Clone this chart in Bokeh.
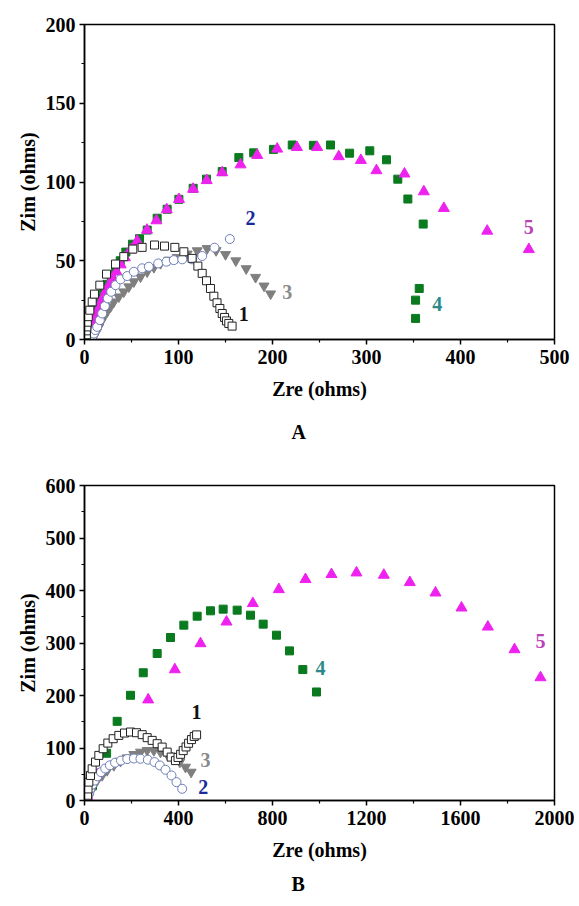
from bokeh.plotting import figure
from bokeh.layouts import column
from bokeh.models import Range1d, Title, FixedTicker
from bokeh.embed import file_html
from bokeh.resources import INLINE
from bokeh.core.properties import value

# ---------------- Panel A data ----------------
a_x1 = [1.5, 2, 2, 2.5, 3, 4, 5.7, 8.2, 10.6, 16.3, 23.4, 33, 41.8, 51.4, 61.3, 74.5, 85.1, 96.1, 105.7,
        114.5, 120.6, 125.2, 129.8, 134, 137.6, 141, 144, 146.5, 149, 151, 153.5, 157]
a_y1 = [1, 3, 5.5, 8, 11, 14.5, 18.6, 23.9, 28.8, 34.5, 41.5, 47.9, 52.6, 57.4, 58.5, 60, 59.3, 58.5, 55.7,
        51.5, 46.6, 42, 37.3, 32.4, 27.5, 23.3, 19.7, 16.5, 14, 11.8, 10.2, 8.5]

a_x2 = [7.1, 8.5, 9.9, 11.5, 13.5, 16.3, 18.8, 21.6, 24.8, 28.4, 33, 38.3, 45.4, 52.5, 61.3, 68.4, 78.4,
        87.2, 95, 104, 114.5, 125.2, 138.3, 154.6]
a_y2 = [0, 2, 3.8, 6, 8, 12.3, 16.5, 21.2, 26.1, 30.3, 34.5, 38.2, 40.3, 43, 45.2, 46.2, 48.3,
        49.4, 50.4, 50.9, 50.9, 53, 58.3, 63.8]

a_x3 = [9.9, 12.8, 15.3, 17.7, 20.6, 24.1, 27.7, 31.2, 36.5, 41.8, 47.2, 52.5, 59.6, 66.7, 73.8, 80.9,
        89.7, 98.6, 109.2, 119.9, 130.5, 140, 150, 161, 172, 182, 191, 198]
a_y3 = [1.7, 4.8, 8, 11.2, 14.4, 17.6, 20.8, 23.9, 27.1, 30.3, 33.5, 36.7, 39.8, 43, 45.8, 48.3,
        50.4, 52.1, 54.3, 56.4, 57.8, 56.5, 54, 50, 45, 39.5, 34, 29]

a_x4 = [5, 6, 7, 8.5, 10, 12, 14.5, 17, 20, 24, 28.5, 33, 38, 44, 51, 58.5, 66.7, 77.3, 87.9, 100.4,
        115.6, 129.8, 146.5, 164.2, 180, 201, 221, 243.5, 261.7, 282, 303.5, 321.3, 333.3, 344, 360.3,
        356.1, 352.2, 352.2]
a_y4 = [0.5, 3, 6, 9.5, 13, 17, 21.5, 26, 30.5, 35, 40, 45, 50, 55.5, 60.5, 64, 69.5, 77, 82.7, 89,
        96, 101.8, 106.6, 115.5, 118.5, 120.7, 123.5, 123.3, 123.5, 118.3, 119.8, 114.1, 101.8, 89.2, 73.3,
        32.4, 25, 13.4]

a_x5 = [6, 7, 8, 9.5, 11, 13, 15, 17.5, 20, 23, 26.5, 30, 34, 38.5, 43, 49, 56, 66.5, 76.5, 87.5, 100.5,
        115.5, 130, 146.5, 166, 183.7, 205, 226, 247.5, 270.5, 294, 310.6, 340.4, 361, 382.3, 428.4, 472.7]
a_y5 = [0.5, 3, 6, 9, 12, 16, 19.5, 23.5, 27, 31, 35, 39, 43, 47.5, 52, 57, 62.5, 69.5, 75.5, 82.5, 89,
        95.5, 101, 106, 111, 117, 121, 122, 122, 116.2, 113.8, 107.3, 105.2, 93.9, 83.3, 68.9, 57.2]

a_lab_text = ["1", "2", "3", "4", "5"]
a_lab_x = [169.5, 176.6, 215.6, 375.2, 472.7]
a_lab_y = [16.5, 77, 30.3, 22.5, 71.6]

# ---------------- Panel B data ----------------
b_x1 = [12, 13, 15, 18.4, 25.5, 32.6, 46.8, 61, 79.4, 99.3, 122, 146.1, 170.2, 195.7, 221.3, 245.4, 266.7,
        288, 309.2, 330.5, 351.8, 368.8, 387, 398, 409, 420, 432, 443, 455, 467, 477]
b_y1 = [3, 10, 22, 35, 47.7, 60.4, 73.2, 85.9, 98.6, 109.4, 117.7, 124, 128.5, 130.4, 129.1, 125.4, 119.7,
        114.5, 108.2, 101.7, 92.2, 82.7, 76, 82, 88, 95, 102, 109, 116, 122, 125]

b_x2 = [10, 14, 19, 25, 33, 43, 55, 70, 88, 108, 130, 155, 182, 210, 238, 269.5, 298, 320.6, 344.7,
        370.2, 391.5, 415.6]
b_y2 = [2, 8, 15, 22, 30, 38, 46, 54, 61, 67, 72, 76, 79, 80, 79.5, 77.7, 73.2, 66.8, 58.5,
        47.7, 35, 22.3]

b_x3 = [10, 14, 18.4, 25, 32.6, 42, 53.9, 75.2, 96.5, 124.8, 153.2, 181.6, 210, 238.3, 266.7, 295,
        323.4, 354.6, 380.1, 405.7, 429.8, 453.9]
b_y3 = [1, 3, 6.4, 15, 25.4, 32, 38.2, 47.7, 57.3, 66.8, 75, 81.4, 87.8, 92.2, 95.4, 95.4,
        92.2, 85.9, 79.5, 73.2, 63.6, 54.1]

b_x4 = [12, 34, 94, 139, 195.7, 250, 309.2, 366, 422.7, 479.4, 536.2, 590, 649.6, 706.4, 760.3, 817,
        872.3, 929, 987.2]
b_y4 = [6, 28, 90, 150.8, 200.4, 243.3, 280, 310.5, 334, 351.1, 361.3, 364.5, 362.6, 353, 335.9, 314.9,
        285, 249.4, 206.7]

b_x5 = [12, 54, 271, 384.4, 493.6, 604.3, 716.3, 827, 940.4, 1051, 1157.4, 1273.8, 1384.4, 1493.6,
        1604.3, 1716.3, 1829.8, 1940.4]
b_y5 = [8, 49, 192, 249.4, 299, 340.3, 375.4, 402, 421.2, 430.7, 433.8, 429.4, 415.4, 395.6,
        367, 330.7, 287.6, 234.2]

b_lab_text = ["1", "2", "3", "4", "5"]
b_lab_x = [476.6, 505, 514.9, 1004, 1940]
b_lab_y = [168.5, 25.4, 77.7, 253, 304]

lab_colors = ["#111111", "#1a2a9a", "#8a8a8a", "#2e8a8a", "#b844b8"]

FONT = "Liberation Serif"


def make_panel(xmax, ymax, xmaj, xmin, ymaj, ymin, top, bottom):
    p = figure(frame_width=470, frame_height=315,
               x_range=Range1d(0, xmax), y_range=Range1d(0, ymax),
               output_backend="svg", toolbar_location=None,
               min_border_left=84, min_border_right=20,
               min_border_top=top, min_border_bottom=bottom,
               background_fill_color="white", border_fill_color="white")
    p.xgrid.visible = False
    p.ygrid.visible = False
    p.outline_line_color = "black"
    p.outline_line_width = 1.5
    p.xaxis.ticker = FixedTicker(ticks=xmaj, minor_ticks=xmin)
    p.yaxis.ticker = FixedTicker(ticks=ymaj, minor_ticks=ymin)
    for ax in (p.xaxis[0], p.yaxis[0]):
        ax.axis_line_color = "black"
        ax.axis_line_width = 1.5
        ax.major_tick_line_color = "black"
        ax.major_tick_line_width = 1.5
        ax.minor_tick_line_color = "black"
        ax.minor_tick_line_width = 1.2
        ax.major_tick_in = 0
        ax.major_tick_out = 5
        ax.minor_tick_in = 0
        ax.minor_tick_out = 3
        ax.major_label_text_font = FONT
        ax.major_label_text_font_style = "bold"
        ax.major_label_text_font_size = "20px"
        ax.major_label_text_color = "black"
        ax.axis_label_text_font = FONT
        ax.axis_label_text_font_style = "bold"
        ax.axis_label_text_font_size = "20px"
        ax.axis_label_text_color = "black"
    p.xaxis.axis_label = "Zre (ohms)"
    p.yaxis.axis_label = "Zim (ohms)"
    p.xaxis.major_label_standoff = 5
    p.yaxis.major_label_standoff = 4
    p.xaxis.axis_label_standoff = 11
    p.yaxis.axis_label_standoff = 4
    return p


def add_series(p, x1, y1, x2, y2, x3, y3, x4, y4, x5, y5, lx, ly, lt):
    p.scatter(x4, y4, marker="square", size=8, fill_color="#0a7a1e", line_color="#0a7a1e")
    p.scatter(x5, y5, marker="triangle", size=11, fill_color="#ee22ee", line_color="#ee22ee")
    p.scatter(x3, y3, marker="inverted_triangle", size=10, fill_color="#7f7f7f", line_color="#7f7f7f")
    p.scatter(x2, y2, marker="circle", size=9, fill_color="white", line_color="#6f7fb8", line_width=1)
    p.scatter(x1, y1, marker="square", size=8, fill_color="white", line_color="#222222", line_width=1)
    p.text(x=lx, y=ly, text=lt, text_color=lab_colors,
           text_font=value(FONT), text_font_style="bold", text_font_size="20px",
           text_align="center", text_baseline="middle")


def add_caption(p, txt, standoff):
    p.add_layout(Title(text=txt, align="left", offset=207, standoff=standoff,
                       text_font=FONT, text_font_style="bold", text_font_size="20px",
                       text_color="black"), "below")


pA = make_panel(500, 200, [0, 100, 200, 300, 400, 500], [50, 150, 250, 350, 450],
                [0, 50, 100, 150, 200], [25, 75, 125, 175], 24, 129)
add_series(pA, a_x1, a_y1, a_x2, a_y2, a_x3, a_y3, a_x4, a_y4, a_x5, a_y5, a_lab_x, a_lab_y, a_lab_text)
add_caption(pA, "A", 33)

pB = make_panel(2000, 600, [0, 400, 800, 1200, 1600, 2000], [200, 600, 1000, 1400, 1800],
                [0, 100, 200, 300, 400, 500, 600], [50, 150, 250, 350, 450, 550], 17, 100)
add_series(pB, b_x1, b_y1, b_x2, b_y2, b_x3, b_y3, b_x4, b_y4, b_x5, b_y5, b_lab_x, b_lab_y, b_lab_text)
add_caption(pB, "B", 14)

layout = column(pA, pB, spacing=0)
open("out.html", "w").write(file_html(layout, INLINE))
